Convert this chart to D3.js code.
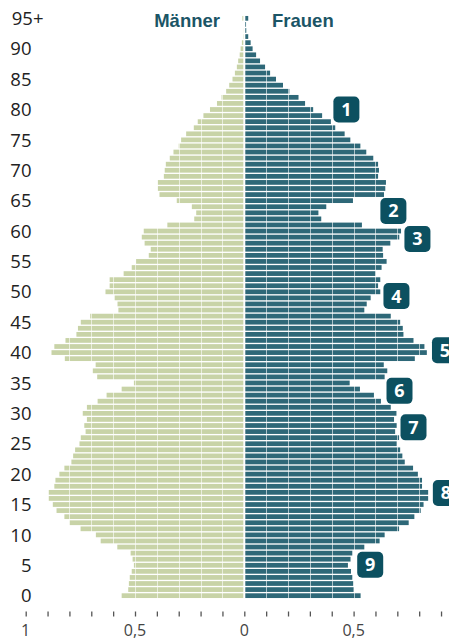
<!DOCTYPE html>
<html>
<head>
<meta charset="utf-8">
<script src="https://cdn.jsdelivr.net/npm/d3@7"></script>
<style>
  html, body { margin: 0; padding: 0; background: #fff; }
  svg { display: block; }
</style>
</head>
<body>
<div id="chart"></div>
<script>
// ages 0 .. 95 (95 = 95+)
const ages = d3.range(0, 96);

// values, index = age
const maenner = [
  0.561, 0.531, 0.528, 0.524, 0.515, 0.505, 0.511, 0.520, 0.581, 0.657,
  0.679, 0.749, 0.800, 0.823, 0.859, 0.876, 0.896, 0.896, 0.869, 0.864,
  0.846, 0.823, 0.791, 0.783, 0.774, 0.754, 0.748, 0.726, 0.732, 0.720,
  0.739, 0.720, 0.671, 0.630, 0.561, 0.505, 0.673, 0.693, 0.680, 0.821,
  0.882, 0.869, 0.818, 0.768, 0.761, 0.748, 0.705, 0.576, 0.580, 0.593,
  0.635, 0.616, 0.616, 0.552, 0.515, 0.495, 0.437, 0.428, 0.456, 0.469,
  0.460, 0.352, 0.229, 0.220, 0.240, 0.309, 0.388, 0.396, 0.396, 0.368,
  0.364, 0.359, 0.341, 0.324, 0.300, 0.289, 0.266, 0.231, 0.213, 0.187,
  0.157, 0.125, 0.104, 0.083, 0.069, 0.054, 0.043, 0.034, 0.028, 0.021,
  0.017, 0.011, 0.006, 0.005, 0.003, 0.009
];

const frauen = [
  0.532, 0.500, 0.498, 0.494, 0.488, 0.474, 0.486, 0.494, 0.549, 0.619,
  0.642, 0.708, 0.752, 0.778, 0.807, 0.820, 0.841, 0.841, 0.813, 0.813,
  0.794, 0.772, 0.734, 0.723, 0.713, 0.697, 0.708, 0.690, 0.697, 0.685,
  0.696, 0.670, 0.625, 0.593, 0.529, 0.482, 0.642, 0.654, 0.638, 0.780,
  0.835, 0.824, 0.774, 0.728, 0.725, 0.713, 0.670, 0.549, 0.560, 0.578,
  0.622, 0.612, 0.622, 0.601, 0.628, 0.651, 0.635, 0.633, 0.668, 0.709,
  0.717, 0.538, 0.352, 0.339, 0.375, 0.497, 0.639, 0.645, 0.648, 0.612,
  0.616, 0.612, 0.590, 0.558, 0.531, 0.485, 0.459, 0.416, 0.396, 0.356,
  0.315, 0.278, 0.248, 0.206, 0.177, 0.145, 0.118, 0.095, 0.072, 0.054,
  0.038, 0.029, 0.018, 0.009, 0.008, 0.018
];

const ageTicks = [0, 5, 10, 15, 20, 25, 30, 35, 40, 45, 50, 55, 60, 65, 70, 75, 80, 85, 90, 95];
const xTicks = [-1, -0.5, 0, 0.5];

// numbered markers: label, age, value
const markerLabels = ['1', '2', '3', '4', '5', '6', '7', '8', '9'];
const markerAges = [80, 63.3, 58.7, 49.3, 40.4, 33.7, 27.7, 16.9, 5.1];
const markerValues = [0.467, 0.682, 0.792, 0.696, 0.918, 0.710, 0.774, 0.922, 0.576];

const width = 449;
const height = 641;

const svg = d3
  .select('#chart')
  .append('svg')
  .attr('width', width)
  .attr('height', height);

const x = d3.scaleLinear().domain([-1, 1]).range([25.7, 462.9]);

const y = d3
  .scaleBand()
  .domain(ages.slice().reverse())
  .range([15.3, 598.7])
  .paddingInner(0.22)
  .paddingOuter(0.11);

const yc = (a) => 595.7 - (595.7 - 18.3) * (a / 95);

// bars
svg
  .append('g')
  .selectAll('rect')
  .data(ages)
  .enter()
  .append('rect')
  .attr('x', (d) => x(-maenner[d]))
  .attr('y', (d) => y(d))
  .attr('width', (d) => x(0) - x(-maenner[d]) - 1)
  .attr('height', y.bandwidth())
  .attr('fill', '#c8d3a7');

svg
  .append('g')
  .selectAll('rect')
  .data(ages)
  .enter()
  .append('rect')
  .attr('x', x(0) + 1)
  .attr('y', (d) => y(d))
  .attr('width', (d) => x(frauen[d]) - x(0) - 1)
  .attr('height', y.bandwidth())
  .attr('fill', '#2e6878');

// white grid lines over the bars
const grid = d3.range(-9, 10).filter((i) => i !== 0).map((i) => i / 10);
svg
  .append('g')
  .selectAll('line')
  .data(grid)
  .enter()
  .append('line')
  .attr('x1', (d) => Math.round(x(d)) + 0.5)
  .attr('x2', (d) => Math.round(x(d)) + 0.5)
  .attr('y1', 10)
  .attr('y2', 600)
  .attr('stroke', '#fff')
  .attr('stroke-opacity', 0.6)
  .attr('stroke-width', 1);

// bottom axis
const xAxis = d3
  .axisBottom(x)
  .tickValues(d3.range(-10, 10).map((i) => i / 10))
  .tickSize(5)
  .tickFormat('');

svg
  .append('g')
  .attr('transform', 'translate(0, 611.5)')
  .call(xAxis)
  .call((g) => g.select('.domain').remove())
  .call((g) => g.selectAll('.tick line').attr('stroke', '#555').attr('stroke-width', 1.3));

svg
  .append('g')
  .selectAll('text')
  .data(xTicks)
  .enter()
  .append('text')
  .attr('x', (d) => x(d))
  .attr('y', 636)
  .attr('text-anchor', 'middle')
  .attr('font-family', 'Open Sans, sans-serif')
  .attr('font-size', 16)
  .attr('fill', '#444')
  .text((d) => String(Math.abs(d)).replace('.', ','));

// age labels
const ageLabels = svg
  .append('g')
  .selectAll('text')
  .data(ageTicks)
  .enter()
  .append('text')
  .attr('x', 31.5)
  .attr('y', (d) => y(d) + y.bandwidth() / 2)
  .attr('dy', '0.36em')
  .attr('text-anchor', 'end')
  .attr('font-family', 'Open Sans, sans-serif')
  .attr('font-size', 18.5)
  .attr('fill', '#222')
  .text((d) => d);

ageLabels
  .filter((d) => d === 95)
  .append('tspan')
  .text('+');

// the "+" sits past the right edge of the numbers
ageLabels.filter((d) => d === 95).attr('x', 43.5);

// headings
svg
  .append('text')
  .attr('x', 220)
  .attr('y', 27)
  .attr('text-anchor', 'end')
  .attr('font-family', 'Liberation Sans Narrow, sans-serif')
  .attr('font-weight', 'bold')
  .attr('font-size', 18.5)
  .attr('fill', '#1b5566')
  .text('Männer');

svg
  .append('text')
  .attr('x', 272)
  .attr('y', 27)
  .attr('font-family', 'Liberation Sans Narrow, sans-serif')
  .attr('font-weight', 'bold')
  .attr('font-size', 18.5)
  .attr('fill', '#1b5566')
  .text('Frauen');

// markers
const markers = svg
  .append('g')
  .selectAll('g')
  .data(markerLabels)
  .enter()
  .append('g')
  .attr('transform', (d, i) => `translate(${x(markerValues[i])}, ${yc(markerAges[i])})`);

markers
  .append('rect')
  .attr('x', -13)
  .attr('y', -13)
  .attr('width', 26)
  .attr('height', 26)
  .attr('rx', 5)
  .attr('fill', '#0c5060');

markers
  .append('text')
  .attr('text-anchor', 'middle')
  .attr('dy', '0.36em')
  .attr('font-family', 'Open Sans, sans-serif')
  .attr('font-weight', 'bold')
  .attr('font-size', 18)
  .attr('fill', '#fff')
  .text((d) => d);
</script>
</body>
</html>
